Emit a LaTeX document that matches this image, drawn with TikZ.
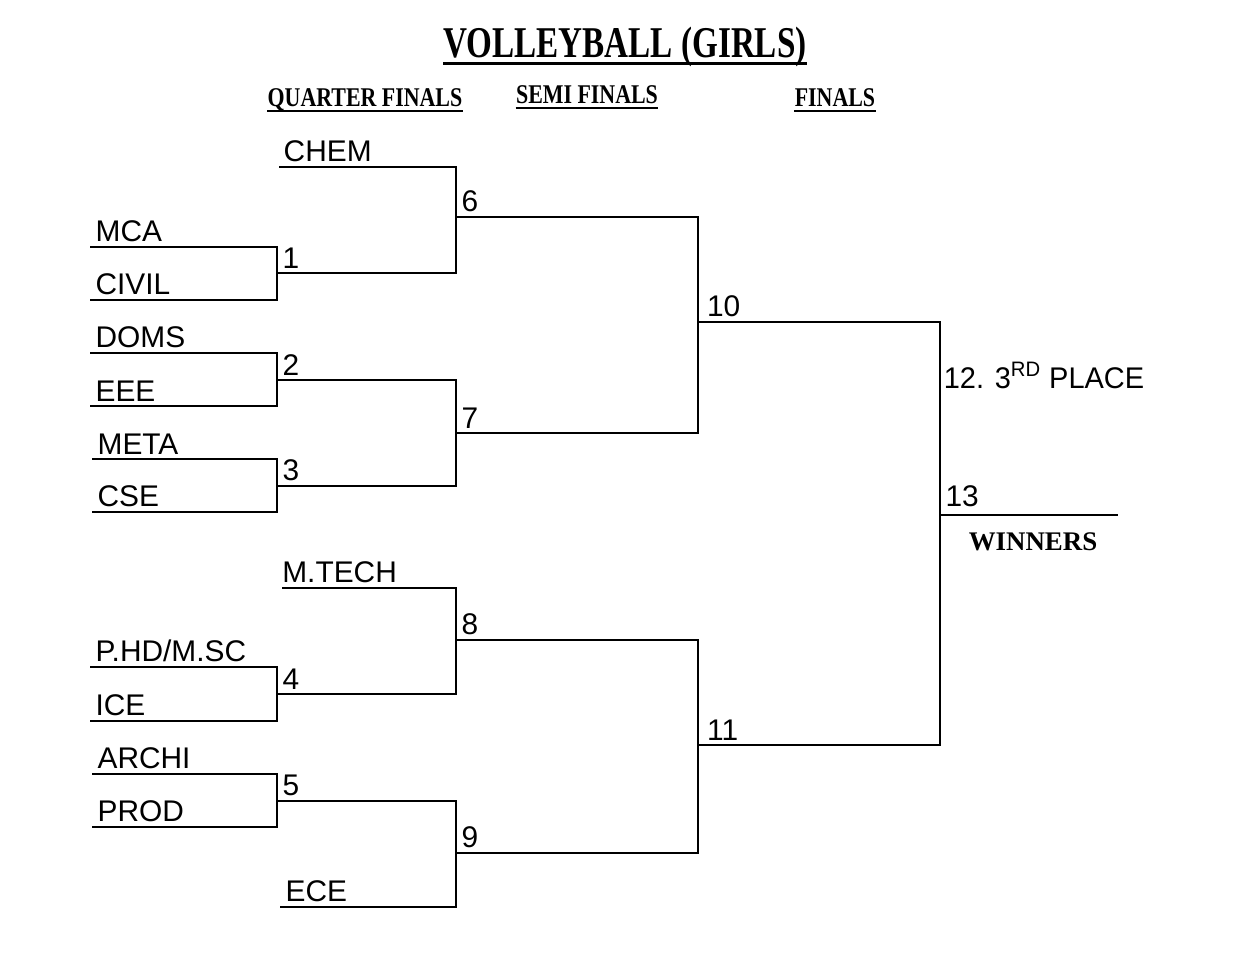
\documentclass[tikz,border=0pt]{standalone}
\usepackage{graphicx}
\usepackage{fontspec}
\setmainfont{Liberation Serif}
\setsansfont{Liberation Sans}
\usetikzlibrary{positioning, calc}

\tikzset{
  bline/.style ={draw=black, line width=1.1pt},
  uline/.style ={draw=black, line width=1.3pt},
  team/.style  ={anchor=south west, font=\sffamily\fontsize{17}{17}\selectfont,
                 inner xsep=3pt, inner ysep=2.6pt},
  num/.style   ={team},
  head/.style  ={anchor=base, inner sep=0pt, font=\bfseries\fontsize{15.4}{16}\selectfont},
  ttl/.style   ={anchor=base, inner sep=0pt, font=\bfseries\fontsize{25}{26}\selectfont}
}

\begin{document}
\begin{tikzpicture}[x=0.02cm, y=-0.02cm]
  \useasboundingbox (0,0) rectangle (1255,967);

  % headings
  \node[ttl]  (title) at (625,57)  {\scalebox{0.755}[1]{VOLLEYBALL (GIRLS)}};
  \node[head] (qf)    at (365,106) {\scalebox{0.81}[1]{QUARTER FINALS}};
  \node[head] (sf)    at (587,103) {\scalebox{0.81}[1]{SEMI FINALS}};
  \node[head] (fin)   at (835,106) {\scalebox{0.81}[1]{FINALS}};
  \draw[uline, line width=1.7pt] ([yshift=-0.13cm]title.base west) -- ([yshift=-0.13cm]title.base east);
  \foreach \h in {qf, sf, fin}
    \draw[uline] ([yshift=-0.1cm]\h.base west) -- ([yshift=-0.1cm]\h.base east);

  % teams (left end of each line)
  \coordinate (chem)  at (279,167);
  \coordinate (mca)   at (90,247);
  \coordinate (civil) at (90,300);
  \coordinate (doms)  at (90,353);
  \coordinate (eee)   at (90,406);
  \coordinate (meta)  at (92,459);
  \coordinate (cse)   at (92,512);
  \coordinate (mtech) at (282,588);
  \coordinate (phd)   at (90,667);
  \coordinate (ice)   at (90,721);
  \coordinate (archi) at (92,774);
  \coordinate (prod)  at (92,827);
  \coordinate (ece)   at (280,907);

  % matches
  \coordinate (m1)  at (277,273);
  \coordinate (m2)  at (277,380);
  \coordinate (m3)  at (277,486);
  \coordinate (m4)  at (277,694);
  \coordinate (m5)  at (277,801);
  \coordinate (m6)  at (456,217);
  \coordinate (m7)  at (456,433);
  \coordinate (m8)  at (456,640);
  \coordinate (m9)  at (456,853);
  \coordinate (m10) at (698,322);
  \coordinate (m11) at (698,745);
  \coordinate (m13) at (940,515);
  \coordinate (win) at (1118,515);

  \node[team, inner xsep=2.5pt] (tchem)  at (chem)  {CHEM};
  \node[team] (tmca)   at (mca)   {MCA};
  \node[team] (tcivil) at (civil) {CIVIL};
  \node[team] (tdoms)  at (doms)  {DOMS};
  \node[team] (teee)   at (eee)   {EEE};
  \node[team] (tmeta)  at (meta)  {META};
  \node[team] (tcse)   at (cse)   {CSE};
  \node[team, inner xsep=0pt] (tmtech) at (mtech) {M.TECH};
  \node[team] (tphd)   at (phd)   {P.HD/M.SC};
  \node[team] (tice)   at (ice)   {ICE};
  \node[team] (tarchi) at (archi) {ARCHI};
  \node[team] (tprod)  at (prod)  {PROD};
  \node[team] (tece)   at (ece)   {ECE};

  % quarter finals
  \draw[bline] (mca)  -| (m1) |- (civil);
  \draw[bline] (doms) -| (m2) |- (eee);
  \draw[bline] (meta) -| (m3) |- (cse);
  \draw[bline] (phd)  -| (m4) |- (ice);
  \draw[bline] (archi) -| (m5) |- (prod);

  % semi finals
  \draw[bline] (chem) -| (m6) |- (m1);
  \draw[bline] (m2)   -| (m7) |- (m3);
  \draw[bline] (mtech) -| (m8) |- (m4);
  \draw[bline] (m5)   -| (m9) |- (ece);

  % finals
  \draw[bline] (m6)  -| (m10) |- (m7);
  \draw[bline] (m8)  -| (m11) |- (m9);
  \draw[bline] (m10) -| (m13) |- (m11);
  \draw[bline] (m13) -- (win);

  \foreach \m/\t in {m1/1, m2/2, m3/3, m4/4, m5/5, m6/6, m7/7, m8/8, m9/9}
    \node[num] (n\m) at (\m) {\t};
  \foreach \m/\t in {m10/10, m11/11}
    \node[num, inner xsep=5pt] (n\m) at (\m) {\t};
  \node[num, inner ysep=4.5pt] (n13) at (m13) {13};
  \node[team, anchor=base west, inner xsep=2pt] (third) at (940,388)
    {\scalebox{0.97}[1]{12. 3\textsuperscript{RD} PLACE}};
  \node[anchor=base, font=\bfseries\fontsize{15.3}{16}\selectfont] (winners) at (1033,550) {WINNERS};
\end{tikzpicture}
\end{document}
